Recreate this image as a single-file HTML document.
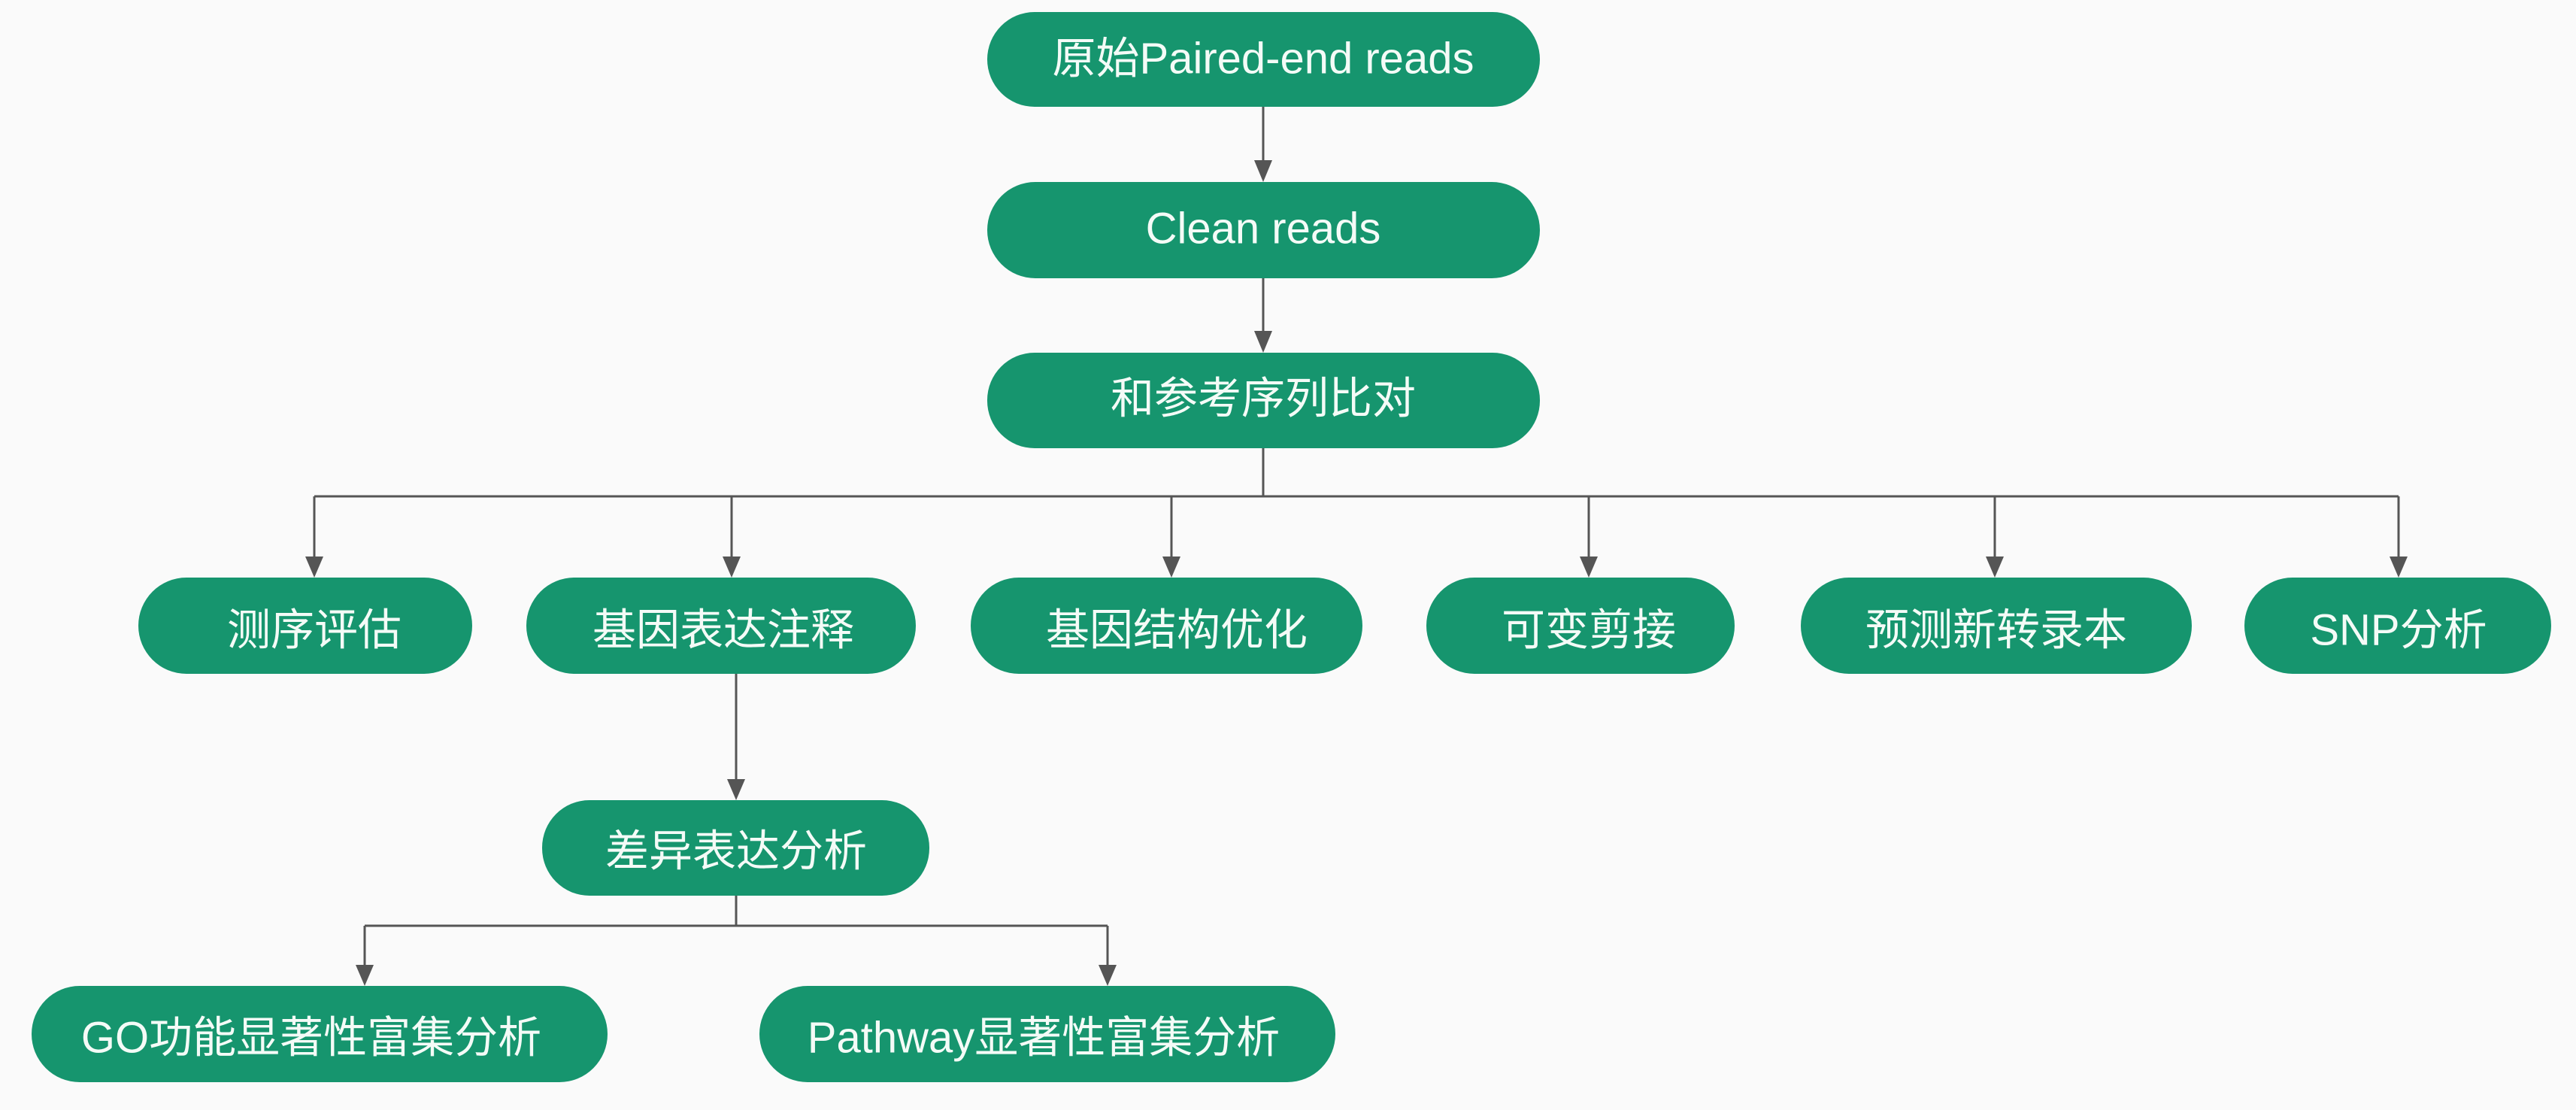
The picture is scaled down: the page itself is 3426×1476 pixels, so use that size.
<!DOCTYPE html>
<html><head><meta charset="utf-8"><style>
html,body{margin:0;padding:0;background:#fafafa;}
svg{display:block}
text{font-family:"Liberation Sans","Noto Sans CJK SC",sans-serif;font-size:58px;fill:#f4fbf7;text-anchor:middle;dominant-baseline:central}
</style></head><body>
<svg width="3426" height="1476" viewBox="0 0 3426 1476" xmlns="http://www.w3.org/2000/svg">
<g stroke="#555" stroke-width="3" fill="none">
<line x1="1680" y1="142" x2="1680" y2="215"/>
<line x1="1680" y1="370" x2="1680" y2="442"/>
<line x1="1680" y1="596" x2="1680" y2="660"/>
<line x1="418" y1="660" x2="3190" y2="660"/>
<line x1="418" y1="660" x2="418" y2="742"/>
<line x1="973" y1="660" x2="973" y2="742"/>
<line x1="1558" y1="660" x2="1558" y2="742"/>
<line x1="2113" y1="660" x2="2113" y2="742"/>
<line x1="2653" y1="660" x2="2653" y2="742"/>
<line x1="3190" y1="660" x2="3190" y2="742"/>
<line x1="979" y1="896" x2="979" y2="1038"/>
<line x1="979" y1="1191" x2="979" y2="1231"/>
<line x1="485" y1="1231" x2="1473" y2="1231"/>
<line x1="485" y1="1231" x2="485" y2="1285"/>
<line x1="1473" y1="1231" x2="1473" y2="1285"/>
</g>
<g fill="#555">
<polygon points="1668,213 1692,213 1680,242"/>
<polygon points="1668,440 1692,440 1680,469"/>
<polygon points="406,740 430,740 418,768"/>
<polygon points="961,740 985,740 973,768"/>
<polygon points="1546,740 1570,740 1558,768"/>
<polygon points="2101,740 2125,740 2113,768"/>
<polygon points="2641,740 2665,740 2653,768"/>
<polygon points="3178,740 3202,740 3190,768"/>
<polygon points="967,1036 991,1036 979,1064"/>
<polygon points="473,1283 497,1283 485,1311"/>
<polygon points="1461,1283 1485,1283 1473,1311"/>
</g>
<g fill="#16956e">
<rect x="1313" y="16" width="735" height="126" rx="63"/>
<rect x="1313" y="242" width="735" height="128" rx="64"/>
<rect x="1313" y="469" width="735" height="127" rx="63"/>
<rect x="184" y="768" width="444" height="128" rx="64"/>
<rect x="700" y="768" width="518" height="128" rx="64"/>
<rect x="1291" y="768" width="521" height="128" rx="64"/>
<rect x="1897" y="768" width="410" height="128" rx="64"/>
<rect x="2395" y="768" width="520" height="128" rx="64"/>
<rect x="2985" y="768" width="408" height="128" rx="64"/>
<rect x="721" y="1064" width="515" height="127" rx="63"/>
<rect x="42" y="1311" width="766" height="128" rx="64"/>
<rect x="1010" y="1311" width="766" height="128" rx="64"/>
</g>
<text x="1680" y="72" dy="6">原始Paired-end reads</text>
<text x="1680" y="298" dy="6">Clean reads</text>
<text x="1680" y="524" dy="6">和参考序列比对</text>
<text x="418" y="832" dy="6">测序评估</text>
<text x="962" y="832" dy="6">基因表达注释</text>
<text x="1565" y="832" dy="6">基因结构优化</text>
<text x="2113" y="832" dy="6">可变剪接</text>
<text x="2655" y="832" dy="6">预测新转录本</text>
<text x="3190" y="832" dy="6">SNP分析</text>
<text x="979" y="1126" dy="6">差异表达分析</text>
<text x="414" y="1374" dy="6">GO功能显著性富集分析</text>
<text x="1388" y="1374" dy="6">Pathway显著性富集分析</text>
</svg>
</body></html>
